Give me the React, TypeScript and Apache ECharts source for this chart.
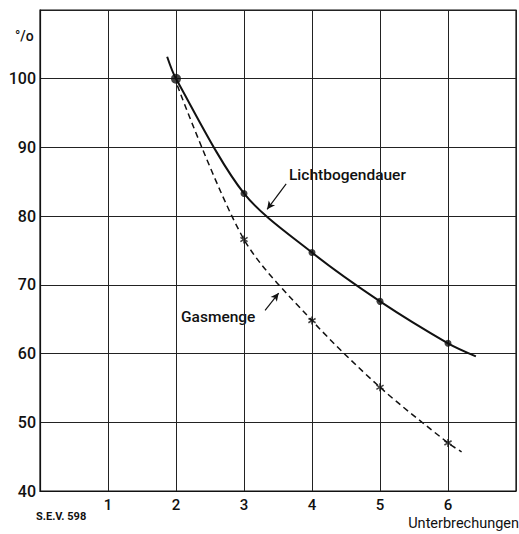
import React, { useEffect, useRef } from "react";
import * as echarts from "echarts";

const xTicks = [1, 2, 3, 4, 5, 6];
const yTicks = [40, 50, 60, 70, 80, 90, 100];

// Lichtbogendauer: measured points and curve extension ends
const arcX = [2, 3, 4, 5, 6];
const arcY = [100, 83.3, 74.7, 67.6, 61.5];
const arcStart = [1.87, 103.2];
const arcEnd = [6.41, 59.6];

// Gasmenge
const gasX = [2, 3, 4, 5, 6];
const gasY = [100, 76.6, 64.8, 55.1, 47.0];
const gasStart = [2.02, 99.0];
const gasEnd = [6.2, 45.7];

const arcLeader = [[3.62, 84.7], [3.34, 81.0]];
const gasLeader = [[3.31, 66.3], [3.51, 68.8]];

const FONT = "Roboto, 'Liberation Sans', Arial, sans-serif";
const INK = "#111";

const starPath =
  "path://M-1,-5 L1,-5 L1,-1.7 L4,-3.5 L5,-1.8 L2,0 L5,1.8 L4,3.5 L1,1.7 L1,5 L-1,5 L-1,1.7 L-4,3.5 L-5,1.8 L-2,0 L-5,-1.8 L-4,-3.5 L-1,-1.7 Z";

export default function App() {
  const ref = useRef<HTMLDivElement>(null);
  useEffect(() => {
    if (!ref.current) return;
    const chart = echarts.init(ref.current, undefined, { renderer: "svg" });
    const arcLine = [arcStart, ...arcX.map((x, i) => [x, arcY[i]]), arcEnd];
    const gasLine = [gasStart, ...gasX.slice(1).map((x, i) => [x, gasY[i + 1]]), gasEnd];
    chart.setOption({
      animation: false,
      backgroundColor: "#fff",
      grid: { left: 40, right: 1, top: 10, bottom: 43, show: true, borderColor: INK, borderWidth: 1.2 },
      xAxis: {
        type: "value",
        min: 0,
        max: 7,
        interval: 1,
        axisLine: { show: true, lineStyle: { color: INK, width: 1.2 } },
        axisTick: { show: false },
        splitLine: { show: true, lineStyle: { color: "#222", width: 1 } },
        axisLabel: {
          margin: 6,
          color: INK,
          fontFamily: FONT,
          fontSize: 15,
          fontWeight: 500,
          formatter: (v: number) => (xTicks.includes(v) ? String(v) : ""),
        },
      },
      yAxis: {
        type: "value",
        min: 40,
        max: 110,
        interval: 10,
        axisLine: { show: true, lineStyle: { color: INK, width: 1.2 } },
        axisTick: { show: false },
        splitLine: { show: true, lineStyle: { color: "#222", width: 1 } },
        axisLabel: {
          margin: 4,
          color: INK,
          fontFamily: FONT,
          fontSize: 16,
          fontWeight: 500,
          formatter: (v: number) => (yTicks.includes(v) ? String(v) : ""),
        },
      },
      series: [
        {
          type: "line",
          data: arcLine,
          smooth: 0.3,
          showSymbol: false,
          symbol: "none",
          lineStyle: { color: INK, width: 2 },
          markLine: {
            silent: true,
            symbol: ["none", "arrow"],
            symbolSize: [6, 8],
            label: { show: false },
            lineStyle: { color: INK, width: 1.2, type: "solid" },
            data: [[{ coord: arcLeader[0] }, { coord: arcLeader[1] }]],
          },
        },
        {
          type: "line",
          data: gasLine,
          smooth: 0.3,
          showSymbol: false,
          symbol: "none",
          lineStyle: { color: INK, width: 1.5, type: [6, 4] },
          markLine: {
            silent: true,
            symbol: ["none", "arrow"],
            symbolSize: [6, 8],
            label: { show: false },
            lineStyle: { color: INK, width: 1.2, type: "solid" },
            data: [[{ coord: gasLeader[0] }, { coord: gasLeader[1] }]],
          },
        },
        {
          type: "scatter",
          data: arcX.map((x, i) => ({ value: [x, arcY[i]], symbolSize: i === 0 ? 10 : 7 })),
          symbol: "circle",
          itemStyle: { color: INK },
        },
        {
          type: "scatter",
          data: gasX.slice(1).map((x, i) => [x, gasY[i + 1]]),
          symbol: starPath,
          symbolSize: 8,
          itemStyle: { color: INK },
        },
      ],
      graphic: [
        { type: "text", left: 15, top: 29, style: { text: "°/o", fontFamily: FONT, fontSize: 14, fontWeight: 500, fill: INK } },
        { type: "text", left: 289, top: 167, style: { text: "Lichtbogendauer", fontFamily: FONT, fontSize: 15.5, fontWeight: 500, fill: INK } },
        { type: "text", left: 181, top: 309, style: { text: "Gasmenge", fontFamily: FONT, fontSize: 15.5, fontWeight: 500, fill: INK } },
        { type: "text", left: 36, top: 511, style: { text: "S.E.V. 598", fontFamily: FONT, fontSize: 11, fontWeight: "bold", fill: INK } },
        { type: "text", right: 0, top: 516, style: { text: "Unterbrechungen", fontFamily: FONT, fontSize: 14.5, fontWeight: 400, fill: INK } },
      ],
    });
    return () => chart.dispose();
  }, []);
  return <div ref={ref} style={{ width: 519, height: 534, position: "absolute", left: 0, top: 0 }} />;
}
